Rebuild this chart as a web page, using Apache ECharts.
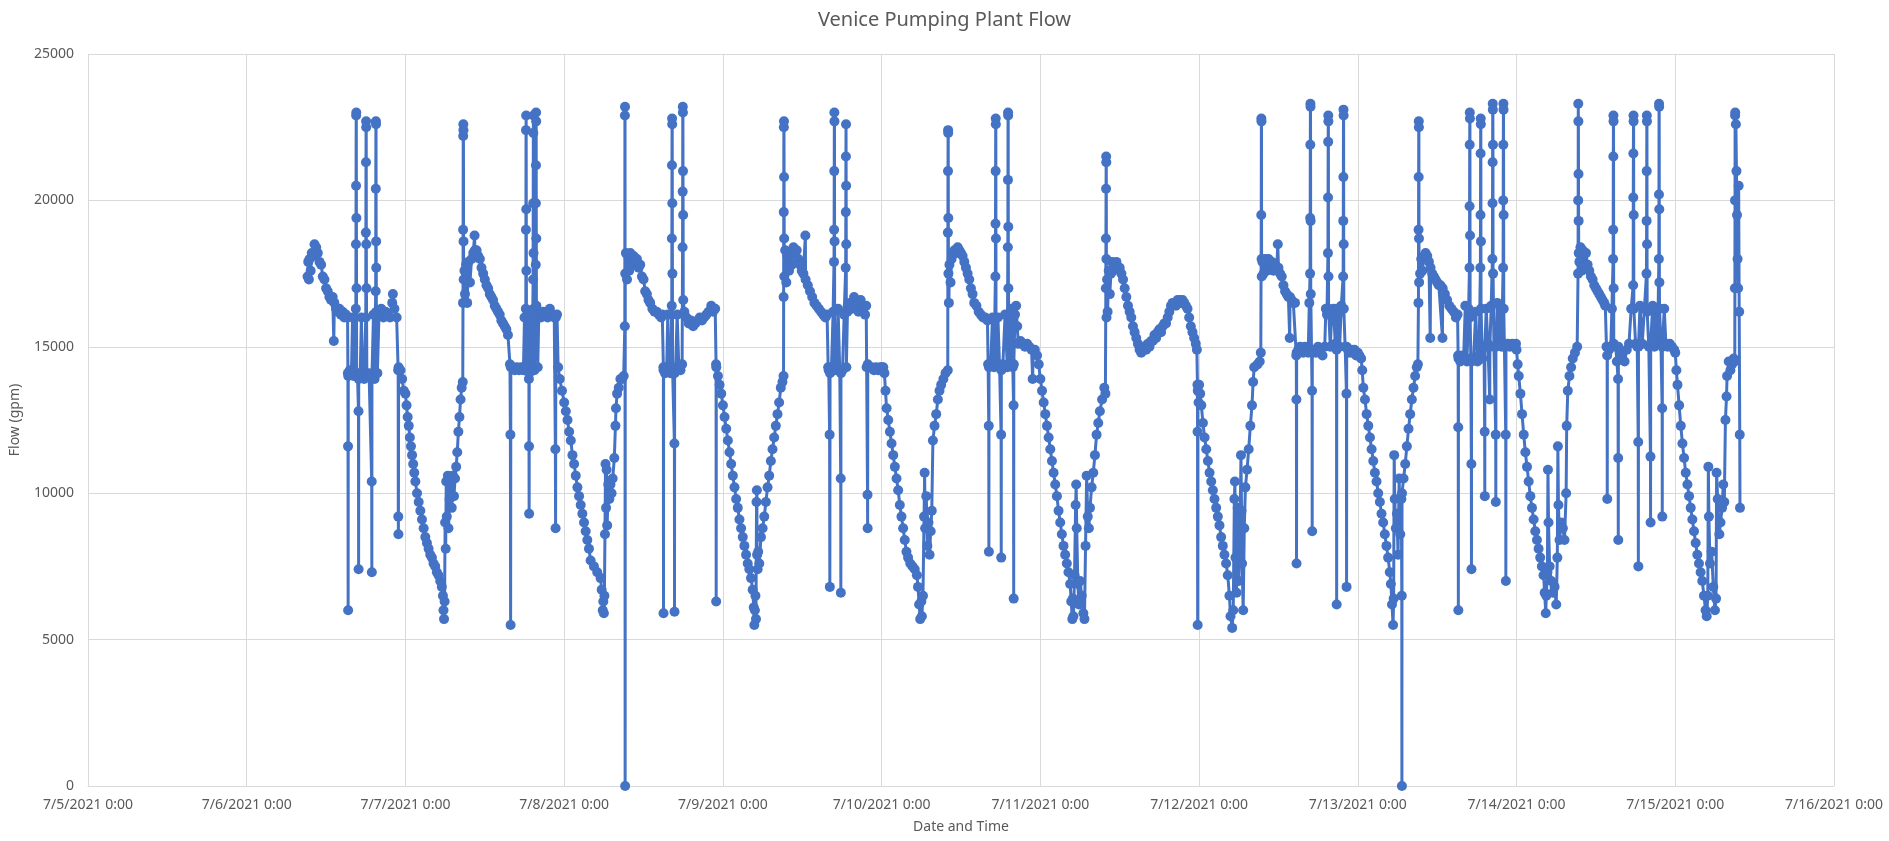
<!DOCTYPE html>
<html>
<head>
<meta charset="utf-8">
<title>Venice Pumping Plant Flow</title>
<script src="https://cdn.jsdelivr.net/npm/echarts@6/dist/echarts.min.js"></script>
<style>
  html, body { margin: 0; padding: 0; background: #fff; }
  #chart { width: 1889px; height: 841px; }
</style>
</head>
<body>
<div id="chart"></div>
<script>
// readings per day: [time of day, flow gpm]
const jul06 = [
  ['9:12',17400],['9:18',17900],['9:24',17300],['9:30',18000],['9:40',17600],['9:50',18200],['10:00',18100],['10:15',18500],['10:30',18400],['10:45',18200],
  ['11:00',17900],['11:15',17800],['11:30',17400],['11:45',17300],['12:00',17000],['12:15',16900],['12:30',16700],['12:45',16600],['13:00',16700],['13:10',15200],
  ['13:15',16500],['13:30',16300],['13:45',16200],['14:00',16300],['14:15',16100],['14:30',16200],['14:45',16000],['15:00',16100],['15:15',16000],
  ['15:18',14100],['15:19',11600],['15:20',6000],['15:21',14000],['15:35',14200],['15:50',14100],['16:00',16000],['16:10',14000],['16:20',14100],
  ['16:30',16300],['16:31',18500],['16:32',20500],['16:33',22900],['16:34',23000],['16:35',19400],['16:36',17000],['16:37',14100],['16:45',14000],
  ['16:54',12800],['16:55',7400],['16:56',13900],['17:10',14100],['17:20',16000],['17:30',14000],['17:45',13900],
  ['18:00',16000],['18:01',18900],['18:02',21300],['18:03',22700],['18:04',22500],['18:05',18500],['18:06',17000],['18:10',14000],['18:30',14100],
  ['18:54',10400],['18:55',7300],['18:56',14000],['19:10',16100],['19:20',13900],
  ['19:30',16900],['19:31',20400],['19:32',22700],['19:33',22600],['19:34',18600],['19:35',17700],['19:36',16200],['19:45',14100],
  ['20:00',16100],['20:20',16300],['20:40',16000],['21:00',16200],['21:20',16100],['21:40',16000],['22:00',16500],['22:06',16800],['22:20',16300],['22:40',16000],
  ['22:54',14200],['22:55',9200],['22:56',8600],['22:58',14300],['23:15',14200],['23:30',13900],['23:45',13500]
];
const jul07 = [
  ['0:00',13400],['0:10',13000],['0:20',12600],['0:30',12300],['0:40',11900],['0:50',11600],['1:00',11300],['1:10',11000],['1:20',10700],['1:30',10400],
  ['1:45',10000],['2:00',9700],['2:15',9400],['2:30',9100],['2:45',8800],['3:00',8500],['3:15',8300],['3:30',8100],['3:45',7900],['4:00',7800],
  ['4:15',7600],['4:30',7500],['4:45',7300],['5:00',7200],['5:15',7000],['5:30',6800],['5:40',6500],['5:45',6000],['5:50',5700],['5:55',6300],
  ['6:00',9000],['6:05',8100],['6:10',10400],['6:15',9200],['6:25',10600],['6:30',8800],['6:40',9800],['6:50',10200],['7:00',9500],['7:10',10600],
  ['7:20',9900],['7:30',10500],['7:40',10900],['7:50',11400],['8:00',12100],['8:10',12600],['8:20',13200],['8:30',13600],['8:40',13800],
  ['8:42',16500],['8:43',19000],['8:44',22200],['8:45',22600],['8:46',22400],['8:47',18600],['8:48',17300],['8:55',17600],['9:00',16800],['9:10',17800],
  ['9:20',16500],['9:30',17900],['9:45',17200],['10:00',18000],['10:15',18200],['10:27',18800],['10:30',18300],['10:45',18300],['11:00',18100],['11:15',18000],
  ['11:30',17700],['11:45',17500],['12:00',17300],['12:15',17100],['12:30',17000],['12:45',16800],['13:00',16700],['13:15',16600],['13:30',16400],['13:45',16300],
  ['14:00',16200],['14:15',16100],['14:30',15900],['14:45',15800],['15:00',15700],['15:15',15600],['15:30',15400],
  ['15:48',14400],['15:52',12000],['15:54',5500],['15:56',14300],['16:10',14300],['16:30',14200],['16:50',14300],['17:10',14200],['17:30',14300],['17:50',14200],
  ['18:00',16000],['18:05',14200],['18:12',16300],['18:13',19000],['18:14',22400],['18:15',22900],['18:16',19700],['18:17',17600],['18:18',14300],
  ['18:30',16100],['18:40',13900],['18:41',11600],['18:42',9300],['18:43',14100],['19:00',16000],['19:10',14200],
  ['19:18',17300],['19:19',19900],['19:20',22300],['19:21',22900],['19:22',18200],['19:23',16300],['19:30',14200],
  ['19:42',17800],['19:43',19900],['19:44',21200],['19:45',23000],['19:46',22700],['19:47',18700],['19:48',16400],['20:00',14300],
  ['20:10',16100],['20:30',16000],['20:50',16200],['21:10',16100],['21:30',16000],['21:50',16300],['22:10',16100],['22:30',16000],
  ['22:40',11500],['22:42',8800],['22:44',16000],['22:55',16100],['23:05',14300],['23:20',13900],['23:40',13500]
];
const jul08 = [
  ['0:00',13100],['0:15',12800],['0:30',12500],['0:45',12100],['1:00',11800],['1:15',11300],['1:30',11000],['1:45',10600],['2:00',10200],['2:15',9900],
  ['2:30',9600],['2:45',9300],['3:00',9000],['3:15',8700],['3:30',8400],['3:45',8100],['4:00',7700],['4:30',7500],['5:00',7300],['5:30',7100],
  ['5:40',6700],['5:50',6000],['5:55',6300],['6:00',5900],['6:05',6500],
  ['6:10',8600],['6:15',11000],['6:20',9500],['6:25',10800],['6:30',8900],['6:40',10300],['6:50',9800],['7:00',10300],['7:10',10000],['7:20',10500],
  ['7:35',11200],['7:45',12300],['7:50',12900],['8:00',13400],['8:15',13600],['8:30',13900],['8:45',13900],['9:00',14000],
  ['9:10',15700],['9:11',22900],['9:12',23200],['9:13',0],['9:14',17500],
  ['9:20',18200],['9:30',17300],['9:40',18100],['9:50',17600],['10:00',18200],['10:15',17800],['10:30',18100],['10:45',17900],['11:00',18000],['11:15',17700],
  ['11:30',17800],['11:45',17400],['12:00',17300],['12:15',16900],['12:30',16800],['12:45',16600],['13:00',16500],['13:20',16300],['13:40',16200],['14:00',16200],
  ['14:20',16100],['14:40',16000],['14:50',16100],
  ['15:00',14300],['15:01',5900],['15:02',14200],['15:15',14100],['15:30',14300],['15:40',16100],['15:50',14200],['16:05',14100],
  ['16:16',16400],['16:17',18700],['16:18',21200],['16:19',22800],['16:20',22600],['16:21',19900],['16:22',17500],['16:23',14300],
  ['16:40',11700],['16:41',5950],['16:42',14100],['16:50',14200],['17:05',16100],['17:20',14300],['17:35',14200],['17:50',14400],
  ['17:54',18400],['17:55',20300],['17:56',23200],['17:57',23000],['17:58',21000],['17:59',19500],['18:00',16600],['18:10',16200],
  ['18:30',16000],['18:50',15800],['19:10',15900],['19:30',15700],['19:50',15800],['20:10',15900],['20:30',16000],['20:50',15900],['21:10',16000],['21:30',16100],
  ['21:50',16200],['22:14',16400],['22:30',16200],['22:50',16300],
  ['22:58',14400],['22:59',6300],['23:00',14300],['23:15',14000],['23:30',13700],['23:45',13400]
];
const jul09 = [
  ['0:00',13000],['0:15',12600],['0:30',12200],['0:45',11800],['1:00',11400],['1:15',11000],['1:30',10600],['1:45',10200],['2:00',9800],['2:15',9500],
  ['2:30',9100],['2:45',8800],['3:00',8500],['3:15',8200],['3:30',7900],['3:45',7600],['4:00',7400],['4:15',7100],['4:30',6700],['4:40',6100],
  ['4:45',5500],['4:50',6000],['4:55',6500],['5:00',5700],['5:05',9700],['5:08',10100],['5:10',7900],['5:15',7400],['5:20',8000],['5:30',7600],
  ['5:45',8500],['6:00',8800],['6:15',9200],['6:30',9700],['6:45',10200],['7:00',10600],['7:15',11100],['7:30',11500],['7:45',11900],['8:00',12300],
  ['8:15',12700],['8:30',13100],['8:45',13600],['9:00',13800],['9:10',14000],
  ['9:11',16700],['9:12',19600],['9:13',22500],['9:14',22700],['9:15',20800],['9:16',18700],['9:17',17400],
  ['9:25',18300],['9:35',17200],['9:45',18100],['10:00',17600],['10:10',18200],['10:25',17800],['10:40',18400],['10:55',18200],['11:10',18300],['11:25',18000],
  ['11:40',17800],['11:55',17600],['12:10',17500],['12:28',18800],['12:30',17300],['12:50',17100],['13:10',16900],['13:30',16700],['13:50',16500],['14:10',16400],
  ['14:30',16300],['14:50',16200],['15:10',16100],['15:30',16000],['15:45',16100],
  ['15:55',14300],['16:00',14200],['16:08',12000],['16:10',6800],['16:12',14100],['16:25',14300],['16:40',16200],
  ['16:48',17900],['16:49',19000],['16:50',21000],['16:51',23000],['16:52',22700],['16:53',18600],['16:54',14200],
  ['17:10',14300],['17:25',16300],['17:40',14200],['17:49',10500],['17:50',6600],['17:51',14100],['18:05',14200],['18:20',16100],
  ['18:34',17700],['18:35',19600],['18:36',21500],['18:37',22600],['18:38',20500],['18:39',18500],['18:40',14300],
  ['18:50',16200],['19:10',16500],['19:30',16300],['19:50',16700],['20:10',16400],['20:30',16200],['20:50',16600],['21:10',16300],['21:30',16100],['21:40',16400],
  ['21:44',14300],['21:52',9950],['21:53',8800],['21:54',14400],['22:10',14300],['22:30',14300],['22:50',14200],['23:10',14300],['23:30',14200],['23:50',14300]
];
const jul10 = [
  ['0:00',14300],['0:15',14300],['0:25',14100],['0:35',13500],['0:45',12900],['1:00',12500],['1:15',12100],['1:30',11700],['1:45',11300],['2:00',10900],
  ['2:15',10500],['2:30',10100],['2:45',9600],['3:00',9200],['3:15',8800],['3:30',8400],['3:45',8000],['4:00',7800],['4:20',7600],['4:40',7500],
  ['5:00',7400],['5:20',7200],['5:30',6800],['5:40',6200],['5:50',5700],['6:00',6300],['6:05',5800],['6:15',6500],['6:25',9200],['6:30',10700],
  ['6:35',8800],['6:45',9900],['6:55',8200],['7:05',9000],['7:15',7900],['7:25',8700],['7:35',9400],['7:45',11800],['8:00',12300],['8:15',12700],
  ['8:30',13200],['8:45',13500],['9:00',13700],['9:20',13900],['9:40',14100],['10:00',14200],
  ['10:01',18900],['10:02',21000],['10:03',22400],['10:04',22300],['10:05',19400],['10:06',17500],['10:10',16500],['10:15',17800],
  ['10:25',17200],['10:35',18000],['10:45',18200],['11:00',18300],['11:15',18200],['11:30',18400],['11:45',18300],['12:00',18200],['12:15',18100],['12:30',17900],
  ['12:45',17700],['13:00',17500],['13:15',17300],['13:30',17000],['13:45',16800],['14:00',16500],['14:20',16400],['14:40',16200],['15:00',16100],['15:20',16000],
  ['15:40',16000],['16:00',15900],
  ['16:06',14400],['16:12',12300],['16:13',8000],['16:14',14300],['16:30',14400],['16:45',16000],['17:00',14300],
  ['17:12',17400],['17:13',19200],['17:14',21000],['17:15',22800],['17:16',22600],['17:17',18700],['17:18',14400],
  ['17:35',16000],['17:50',14300],['18:04',12000],['18:05',7800],['18:06',14200],['18:20',14400],['18:40',16100],['19:00',14300],
  ['19:05',18400],['19:06',20700],['19:07',23000],['19:08',22900],['19:09',19100],['19:10',17000],['19:20',14400],
  ['19:40',16300],['19:50',14300],['19:57',13000],['19:58',6400],['19:59',14400],['20:10',16100],['20:20',16400],['20:30',15700],
  ['20:40',15100],['21:00',15200],['21:20',15100],['21:40',15000],['22:00',15100],['22:20',15000],['22:40',14900],['22:50',13900],['22:55',14900],['23:10',14900],
  ['23:30',14700],['23:45',14400]
];
const jul11 = [
  ['0:00',13900],['0:15',13500],['0:30',13100],['0:45',12700],['1:00',12300],['1:15',11900],['1:30',11500],['1:45',11100],['2:00',10700],['2:15',10300],
  ['2:30',9900],['2:45',9400],['3:00',9000],['3:15',8600],['3:30',8200],['3:45',7900],['4:00',7600],['4:15',7300],['4:30',6900],['4:40',6300],
  ['4:50',5700],['4:55',6400],['5:00',5800],['5:10',7200],['5:20',9600],['5:25',10300],['5:30',8800],['5:40',6900],['5:50',6200],['6:00',7000],
  ['6:15',6500],['6:30',5900],['6:40',5700],['6:50',8200],['7:00',10600],['7:10',9200],['7:20',8800],['7:30',9500],['7:45',10200],['8:00',10700],
  ['8:15',11300],['8:30',12000],['8:45',12400],['9:00',12800],['9:20',13200],['9:40',13600],['9:50',13400],
  ['9:54',17000],['9:55',18700],['9:56',20400],['9:57',21500],['9:58',21300],['9:59',18000],['10:00',16000],['10:05',17300],
  ['10:10',16200],['10:20',17600],['10:30',16800],['10:40',17500],['10:50',17900],['11:00',17600],['11:15',17800],['11:30',17900],['11:45',17700],['12:00',17700],
  ['12:15',17500],['12:30',17300],['12:45',17000],['13:00',16700],['13:15',16400],['13:30',16200],['13:45',16000],['14:00',15700],['14:15',15500],['14:30',15300],
  ['14:45',15100],['15:00',14900],['15:15',14800],['15:30',14900],['15:45',15000],['16:00',14900],['16:15',15100],['16:30',15000],['16:45',15200],['17:00',15200],
  ['17:15',15400],['17:30',15300],['17:45',15500],['18:00',15600],['18:15',15500],['18:30',15700],['18:45',15800],['19:00',15800],['19:15',16000],['19:30',16200],
  ['19:45',16400],['20:00',16500],['20:15',16500],['20:30',16400],['20:45',16600],['21:00',16600],['21:15',16500],['21:30',16600],['21:45',16500],['22:00',16400],
  ['22:15',16300],['22:30',16000],['22:45',15700],['23:00',15500],['23:15',15300],['23:30',15100],['23:40',14900],
  ['23:45',13700],['23:46',12100],['23:47',5500],['23:48',13500],['23:55',13100]
];
const jul12 = [
  ['0:00',13700],['0:10',13400],['0:20',13000],['0:35',12400],['0:50',11900],['1:05',11500],['1:20',11100],['1:35',10700],['1:50',10400],['2:05',10100],
  ['2:20',9800],['2:35',9500],['2:50',9200],['3:05',8900],['3:20',8500],['3:35',8200],['3:50',7900],['4:05',7600],['4:20',7200],['4:35',6500],
  ['4:45',5800],['5:00',5400],['5:10',6000],['5:20',9800],['5:25',10400],['5:30',7800],['5:40',6600],['5:50',9500],['6:00',7000],['6:10',8300],
  ['6:20',11300],['6:25',9400],['6:30',7600],['6:40',6000],['6:50',8800],['7:00',10200],['7:15',10800],['7:30',11500],['7:45',12300],['8:00',13000],
  ['8:10',13800],['8:20',14300],['8:50',14400],['9:10',14500],['9:20',14800],
  ['9:24',19500],['9:25',22800],['9:26',22700],['9:27',18000],['9:28',17400],
  ['9:35',17900],['9:45',17500],['10:00',18000],['10:15',17600],['10:30',18000],['10:45',17700],['11:00',17900],['11:15',17600],['11:30',17800],['11:45',17700],
  ['11:54',18500],['12:00',17700],['12:15',17500],['12:30',17400],['12:45',17100],['13:00',16900],['13:15',16800],['13:30',16700],['13:42',15300],['13:45',16700],
  ['14:00',16600],['14:15',16500],['14:30',16500],
  ['14:42',14700],['14:43',13200],['14:44',7600],['14:45',14800],['15:00',14900],['15:15',15000],['15:30',14900],['15:45',14800],['16:00',15000],['16:15',14900],
  ['16:30',14800],['16:40',16500],['16:47',17500],['16:48',19400],['16:49',21900],['16:50',23300],['16:51',23200],['16:52',19300],['16:53',16800],
  ['17:00',14900],['17:05',13500],['17:06',8700],['17:07',14800],['17:20',14900],['17:40',14800],['18:00',15000],['18:20',14900],['18:40',14700],['19:00',15000],
  ['19:10',16300],['19:20',16100],['19:29',18200],['19:30',20100],['19:31',22000],['19:32',22900],['19:33',22700],['19:34',17400],['19:35',16300],
  ['19:50',15000],['20:05',16200],['20:20',16300],['20:35',15100],['20:47',14900],['20:48',6200],['20:49',16300],['21:00',16100],['21:15',15000],['21:30',16400],
  ['21:47',17400],['21:48',19300],['21:49',20800],['21:50',23100],['21:51',22900],['21:52',18500],['21:53',16300],
  ['22:05',15000],['22:17',13400],['22:18',6800],['22:19',15000],['22:30',14900],['22:45',14800],['23:00',14900],['23:15',14800],['23:30',14900],['23:45',14700]
];
const jul13 = [
  ['0:00',14800],['0:15',14700],['0:30',14600],['0:40',14200],['0:50',13600],['1:05',13200],['1:20',12700],['1:35',12300],['1:50',11900],['2:05',11500],
  ['2:20',11100],['2:35',10700],['2:50',10400],['3:05',10000],['3:20',9700],['3:35',9300],['3:50',9000],['4:05',8600],['4:20',8200],['4:35',7800],
  ['4:50',7300],['5:00',6900],['5:10',6200],['5:20',5500],['5:25',6400],['5:30',11300],['5:35',9800],['5:45',8800],['5:55',9300],['6:05',7900],
  ['6:15',10500],['6:25',8600],['6:35',9800],['6:39',6500],['6:40',0],['6:41',10000],['6:55',10500],['7:10',11000],['7:25',11600],['7:40',12200],
  ['7:55',12700],['8:10',13200],['8:25',13600],['8:40',14000],['8:55',14300],['9:05',14400],
  ['9:10',16500],['9:11',19000],['9:12',20800],['9:13',22700],['9:14',22500],['9:15',18700],['9:16',17200],
  ['9:25',17500],['9:35',18000],['9:45',17600],['10:00',18100],['10:15',18200],['10:30',18100],['10:45',17900],['10:57',15300],['11:00',17700],['11:15',17500],
  ['11:30',17400],['11:45',17300],['12:00',17200],['12:15',17100],['12:30',17100],['12:48',15300],['12:50',17000],['13:10',16800],['13:30',16600],['13:50',16400],
  ['14:10',16300],['14:30',16200],['14:50',16000],['15:05',16100],
  ['15:10',14700],['15:11',12250],['15:12',6000],['15:13',14600],['15:30',14500],['15:45',14700],['16:00',14600],['16:15',16400],['16:30',14500],['16:45',16300],
  ['16:53',17700],['16:54',19800],['16:55',21900],['16:56',23000],['16:57',22800],['16:58',18800],['16:59',16000],
  ['17:05',14600],['17:10',11000],['17:11',7400],['17:12',14500],['17:30',14600],['17:50',16200],['18:05',14500],['18:20',14700],
  ['18:32',17700],['18:33',19500],['18:34',21600],['18:35',22800],['18:36',22600],['18:37',18600],['18:38',16300],
  ['18:50',14600],['19:05',15000],['19:11',12100],['19:12',9900],['19:13',15000],['19:25',16300],['19:40',15100],['19:57',13200],['19:58',15000],['20:10',16400],
  ['20:21',18000],['20:22',19900],['20:23',21300],['20:24',23300],['20:25',23100],['20:26',21900],['20:27',17500],
  ['20:35',15000],['20:51',12000],['20:52',9700],['20:53',15000],['21:05',16500],['21:20',15100],['21:35',16300],['21:45',15000],
  ['21:58',17700],['21:59',20000],['22:00',21900],['22:01',23300],['22:02',23100],['22:03',19500],['22:04',16300],
  ['22:10',15000],['22:22',12000],['22:23',7000],['22:24',15000],['22:40',15100],['23:00',15000],['23:20',15100],['23:40',15000],['23:55',15100]
];
const jul14 = [
  ['0:00',14900],['0:10',14400],['0:20',14000],['0:35',13400],['0:50',12700],['1:05',12000],['1:20',11400],['1:35',10900],['1:50',10400],['2:05',9900],
  ['2:20',9500],['2:35',9100],['2:50',8700],['3:05',8400],['3:20',8100],['3:35',7800],['3:50',7500],['4:05',7200],['4:15',6600],['4:25',5900],
  ['4:30',6500],['4:40',7300],['4:45',10800],['4:50',9000],['5:00',7500],['5:15',7000],['5:30',6600],['5:45',6800],['6:00',6200],['6:10',7800],
  ['6:15',11600],['6:20',9600],['6:30',8400],['6:45',9000],['7:00',8800],['7:15',8400],['7:30',10000],['7:35',12300],['7:45',13500],['8:00',14000],
  ['8:15',14300],['8:30',14600],['8:50',14800],['9:10',15000],
  ['9:18',17500],['9:19',20000],['9:20',23300],['9:21',22700],['9:22',20900],['9:23',19300],['9:24',18200],
  ['9:30',17900],['9:40',18400],['9:50',17600],['10:00',18300],['10:15',17800],['10:30',18200],['10:45',17800],['11:00',17600],['11:15',17400],['11:30',17300],
  ['11:45',17100],['12:00',17000],['12:15',16900],['12:30',16800],['12:45',16700],['13:00',16600],['13:15',16500],['13:25',16400],
  ['13:36',15000],['13:42',14700],['13:43',9800],['13:44',15000],['14:00',14900],['14:15',15000],['14:25',16300],
  ['14:36',18000],['14:37',19000],['14:38',21500],['14:39',22900],['14:40',22700],['14:41',17000],['14:42',15100],
  ['15:00',15000],['15:10',14500],['15:21',13900],['15:22',11200],['15:23',8400],['15:24',15000],['15:40',14800],['16:00',14600],['16:20',14500],['16:40',14900],
  ['17:00',15100],['17:20',16300],['17:38',17100],['17:39',20100],['17:40',21600],['17:41',22900],['17:42',22700],['17:43',19500],['17:44',16300],
  ['18:00',15100],['18:15',15000],['18:24',11750],['18:25',7500],['18:26',15000],['18:40',16400],['19:00',15100],['19:20',16300],
  ['19:39',17500],['19:40',19300],['19:41',21000],['19:42',22900],['19:43',22700],['19:44',18500],['19:45',16200],
  ['20:00',15000],['20:15',11250],['20:16',9000],['20:17',15100],['20:35',16400],['20:50',15000],['21:05',16300],['21:20',15100],
  ['21:31',18000],['21:32',20200],['21:33',23300],['21:34',23200],['21:35',19700],['21:36',17200],['21:37',16300],
  ['21:50',15100],['22:01',12900],['22:02',9200],['22:03',15000],['22:20',16300],['22:35',15100],['22:50',15000],['23:10',15100],['23:30',15000],['23:50',14900]
];
const jul15 = [
  ['0:00',14800],['0:10',14200],['0:20',13700],['0:35',13000],['0:50',12300],['1:05',11700],['1:20',11200],['1:35',10700],['1:50',10300],['2:05',9900],
  ['2:20',9500],['2:35',9100],['2:50',8700],['3:05',8300],['3:20',7900],['3:35',7600],['3:50',7300],['4:05',7000],['4:20',6500],['4:35',6000],
  ['4:45',5800],['4:55',6500],['5:00',10900],['5:05',9200],['5:15',7600],['5:30',8000],['5:45',6800],['6:00',6000],['6:10',6400],['6:15',10700],
  ['6:25',9800],['6:40',8600],['6:50',9000],['7:05',9500],['7:15',10300],['7:25',9700],['7:35',12500],['7:45',13300],['7:50',14000],['8:05',14500],
  ['8:20',14200],['8:35',14400],['8:50',14600],['9:00',14500],
  ['9:01',17000],['9:02',20000],['9:03',22900],['9:04',23000],['9:10',22600],['9:15',21000],['9:20',19500],['9:25',18000],['9:30',17000],['9:35',20500],
  ['9:40',16200],['9:45',12000],['9:47',9500]
];

const days = [[6, jul06], [7, jul07], [8, jul08], [9, jul09], [10, jul10], [11, jul11], [12, jul12], [13, jul13], [14, jul14], [15, jul15]];
const yTicks = [0, 5000, 10000, 15000, 20000, 25000];

// x is hours since 7/5/2021 0:00
const points = [];
days.forEach(([d, rows]) => {
  rows.forEach(([t, v]) => {
    const [h, m] = t.split(':').map(Number);
    points.push([(d - 5) * 24 + h + m / 60, v]);
  });
});

const labelColor = '#595959';
const gridColor = '#d9d9d9';
const font = 'Noto Sans';

const chart = echarts.init(document.getElementById('chart'));
chart.setOption({
  animation: false,
  backgroundColor: '#fff',
  title: {
    text: 'Venice Pumping Plant Flow',
    left: 'center',
    top: 5,
    textStyle: { fontFamily: font, fontSize: 20, fontWeight: 'normal', color: labelColor }
  },
  grid: { left: 88, right: 55, top: 54, bottom: 55 },
  xAxis: {
    type: 'value',
    min: 0,
    max: 264,
    interval: 24,
    name: 'Date and Time',
    nameLocation: 'middle',
    nameGap: 34,
    nameTextStyle: { fontFamily: font, fontSize: 14, color: labelColor },
    axisLine: { show: true, lineStyle: { color: gridColor, width: 1 } },
    axisTick: { show: false },
    splitLine: { show: true, lineStyle: { color: gridColor, width: 1 } },
    axisLabel: {
      fontFamily: font, fontSize: 14, color: labelColor, margin: 12,
      showMinLabel: true, showMaxLabel: true,
      formatter: v => '7/' + (5 + Math.round(v / 24)) + '/2021 0:00'
    }
  },
  yAxis: {
    type: 'value',
    min: yTicks[0],
    max: yTicks[yTicks.length - 1],
    interval: 5000,
    name: 'Flow (gpm)',
    nameLocation: 'middle',
    nameGap: 66,
    nameTextStyle: { fontFamily: font, fontSize: 14, color: labelColor },
    axisLine: { show: false },
    axisTick: { show: false },
    splitLine: { show: true, lineStyle: { color: gridColor, width: 1 } },
    axisLabel: { fontFamily: font, fontSize: 14, color: labelColor, margin: 14, formatter: v => String(v) }
  },
  series: [{
    type: 'line',
    data: points,
    symbol: 'circle',
    symbolSize: 10,
    showAllSymbol: true,
    sampling: null,
    itemStyle: { color: '#4472C4' },
    lineStyle: { color: '#4472C4', width: 3 }
  }]
});
</script>
</body>
</html>
